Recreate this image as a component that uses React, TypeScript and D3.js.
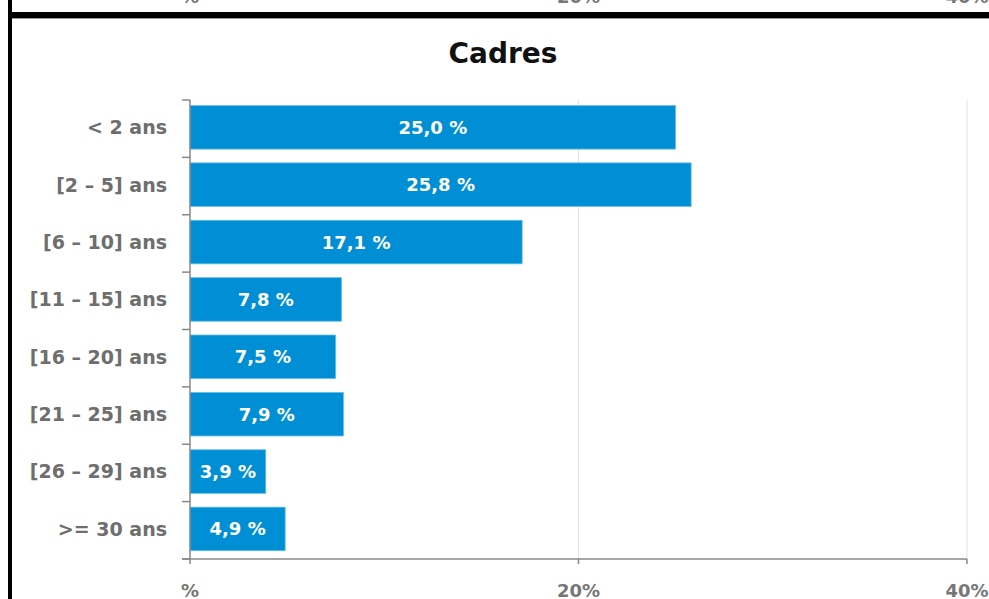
import * as d3 from "d3";

const categories = [
  "< 2 ans",
  "[2 – 5] ans",
  "[6 – 10] ans",
  "[11 – 15] ans",
  "[16 – 20] ans",
  "[21 – 25] ans",
  "[26 – 29] ans",
  ">= 30 ans",
];
const values = [25.0, 25.8, 17.1, 7.8, 7.5, 7.9, 3.9, 4.9];
const xTicks = [0, 20, 40];
const title = "Cadres";

const W = 989;
const H = 599;
const font = "'DejaVu Sans', sans-serif";

const fmtTick = (v: number) => (v === 0 ? "%" : `${v}%`);
const fmtValue = (v: number) => `${v.toFixed(1).replace(".", ",")} %`;

export default function App() {
  const x = d3.scaleLinear().domain([0, 40]).range([190, 967]);
  const y = d3
    .scaleBand<string>()
    .domain(categories)
    .range([100, 559])
    .paddingInner(0.24)
    .paddingOuter(0.12)
    .align(0.4);
  // band boundaries for the category ticks
  const edge = d3.scaleLinear().domain([0, categories.length]).range([100, 559]);

  return (
    <svg
      width={W}
      height={H}
      style={{ position: "fixed", left: 0, top: 0, background: "#fff" }}
      fontFamily={font}
    >
      {/* bits of the chart above, cut by the frame */}
      {xTicks.map((t) => (
        <text
          key={"prev" + t}
          x={x(t)}
          y={3}
          textAnchor="middle"
          fontSize={18}
          fontWeight="bold"
          fill="#777"
        >
          {fmtTick(t)}
        </text>
      ))}
      <rect x={8} y={12} width={W - 8} height={6} fill="#000" />
      <line x1={12} x2={W} y1={18.5} y2={18.5} stroke="#999" />
      <rect x={8} y={0} width={4} height={H} fill="#000" />

      <text
        x={503}
        y={63}
        textAnchor="middle"
        fontSize={28}
        fontWeight="bold"
        fill="#111"
      >
        {title}
      </text>

      {/* grid */}
      {xTicks.slice(1).map((t) => (
        <line
          key={"g" + t}
          x1={x(t)}
          x2={x(t)}
          y1={100}
          y2={559}
          stroke="#e2e2e2"
          strokeWidth={1}
        />
      ))}

      {/* bars */}
      {categories.map((c, i) => {
        const v = values[i];
        const y0 = y(c)!;
        return (
          <g key={c}>
            <rect
              x={x(0)}
              y={y0}
              width={x(v) - x(0)}
              height={y.bandwidth()}
              fill="#008fd5"
              stroke="#6cc0ea"
              strokeWidth={0.8}
            />
            <text
              x={(x(0) + x(v)) / 2}
              y={y0 + y.bandwidth() / 2}
              dy="0.36em"
              textAnchor="middle"
              fontSize={18}
              fontWeight="bold"
              fill="#fff"
            >
              {fmtValue(v)}
            </text>
            <text
              x={167}
              y={y0 + y.bandwidth() / 2}
              dy="0.36em"
              textAnchor="end"
              fontSize={19}
              fontWeight="bold"
              fill="#6e6e6e"
            >
              {c}
            </text>
          </g>
        );
      })}

      {/* y axis */}
      <line x1={190} x2={190} y1={100} y2={559} stroke="#888" strokeWidth={1.5} />
      {d3.range(categories.length + 1).map((i) => (
        <line
          key={"yt" + i}
          x1={182}
          x2={190}
          y1={edge(i)}
          y2={edge(i)}
          stroke="#888"
          strokeWidth={1.5}
        />
      ))}

      {/* x axis */}
      <line x1={182} x2={967} y1={559} y2={559} stroke="#888" strokeWidth={1.5} />
      {xTicks.map((t) => (
        <g key={"xt" + t}>
          <line x1={x(t)} x2={x(t)} y1={559} y2={564} stroke="#888" strokeWidth={1.5} />
          <text
            x={x(t)}
            y={597}
            textAnchor="middle"
            fontSize={18}
            fontWeight="bold"
            fill="#777"
          >
            {fmtTick(t)}
          </text>
        </g>
      ))}
    </svg>
  );
}
